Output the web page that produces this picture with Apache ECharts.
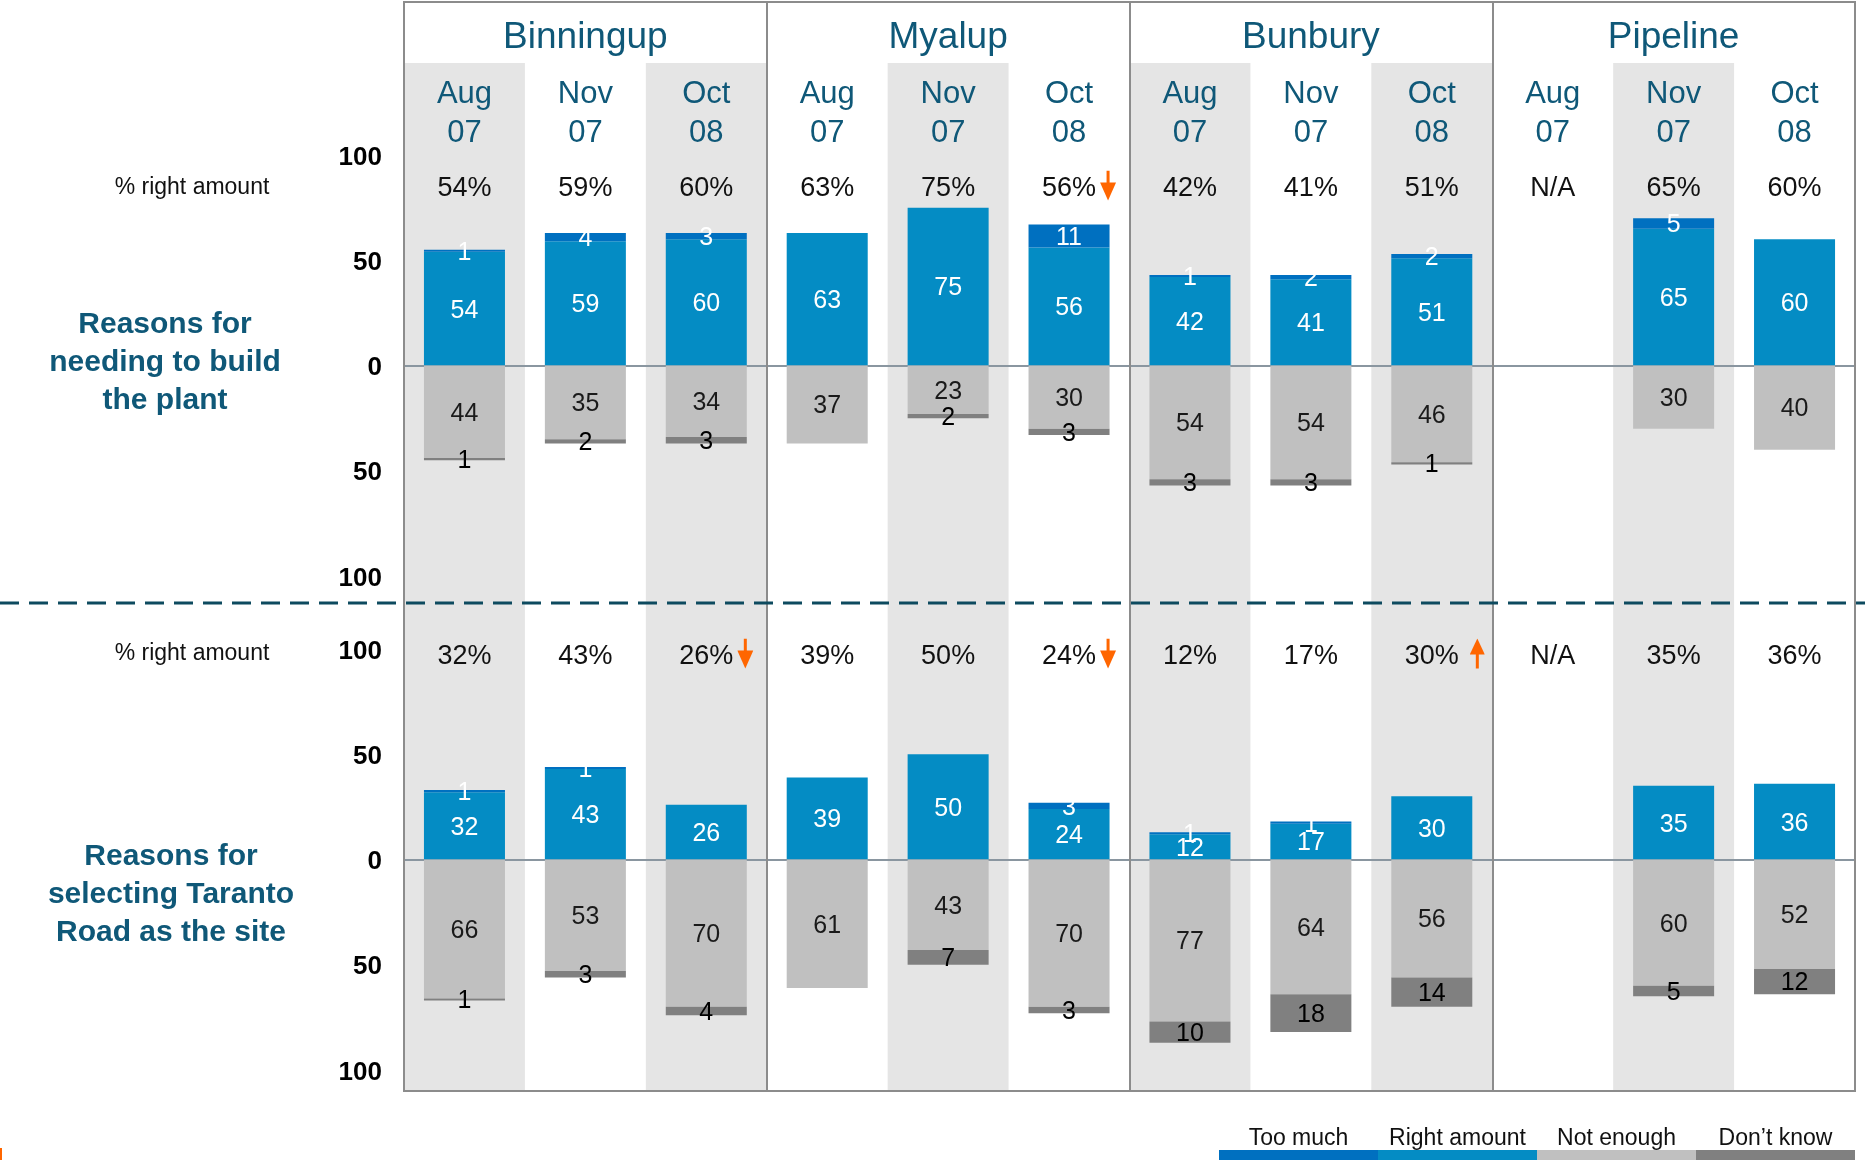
<!DOCTYPE html>
<html>
<head>
<meta charset="utf-8">
<script src="https://cdn.jsdelivr.net/npm/echarts@6.0.0/dist/echarts.min.js"></script>
<style>
  html, body { margin: 0; padding: 0; background: #fff; }
  #chart { width: 1865px; height: 1160px; }
</style>
</head>
<body>
<div id="chart"></div>
<script>
const groups = ['Binningup', 'Myalup', 'Bunbury', 'Pipeline']
const waves = ['Aug\n07', 'Nov\n07', 'Oct\n08']
const periods = groups.flatMap(() => waves)

// Reasons for needing to build the plant
const plantTooMuch = [1, 4, 3, 0, 0, 11, 1, 2, 2, null, 5, 0]
const plantRight = [54, 59, 60, 63, 75, 56, 42, 41, 51, null, 65, 60]
const plantNotEnough = [44, 35, 34, 37, 23, 30, 54, 54, 46, null, 30, 40]
const plantDontKnow = [1, 2, 3, 0, 2, 3, 3, 3, 1, null, 0, 0]
const plantPct = ['54%', '59%', '60%', '63%', '75%', '56%', '42%', '41%', '51%', 'N/A', '65%', '60%']
const plantTrend = ['', '', '', '', '', 'down', '', '', '', '', '', '']

// Reasons for selecting Taranto Road as the site
const siteTooMuch = [1, 1, 0, 0, 0, 3, 1, 1, 0, null, 0, 0]
const siteRight = [32, 43, 26, 39, 50, 24, 12, 17, 30, null, 35, 36]
const siteNotEnough = [66, 53, 70, 61, 43, 70, 77, 64, 56, null, 60, 52]
const siteDontKnow = [1, 3, 4, 0, 7, 3, 10, 18, 14, null, 5, 12]
const sitePct = ['32%', '43%', '26%', '39%', '50%', '24%', '12%', '17%', '30%', 'N/A', '35%', '36%']
const siteTrend = ['', '', 'down', '', '', 'down', '', '', 'up', '', '', '']

const yTicks = [-100, -50, 0, 50, 100]
const legendNames = ['Too much', 'Right amount', 'Not enough', 'Don\u2019t know']

const font = "'Liberation Sans', Arial, sans-serif"
const teal = '#0f5878'
const orange = '#ff6600'
const colors = {
  tooMuch: '#0070c0',
  right: '#048cc4',
  notEnough: '#c0c0c0',
  dontKnow: '#808080'
}

// orange trend arrows, used as backgrounds of rich text tokens
// (drawn in the top 30px of a 37px box so they sit a little above the text)
const svgUrl = (body, w, h) => 'data:image/svg+xml;charset=utf-8,' + encodeURIComponent(
  `<svg xmlns="http://www.w3.org/2000/svg" width="${w}" height="${h}" viewBox="0 0 ${w} ${h}">${body}</svg>`)
const arrowDown = svgUrl(`<rect x="6.5" y="0" width="3" height="15" fill="${orange}"/><polygon points="0,12 16,12 8,30" fill="${orange}"/>`, 16, 37)
const arrowUp = svgUrl(`<rect x="6" y="15" width="3" height="15" fill="${orange}"/><polygon points="0,16 15,16 7.5,0" fill="${orange}"/>`, 15, 37)

const chart = echarts.init(document.getElementById('chart'))

const pctLabel = (pct, trend) => {
  if (trend === 'down') return '{sd| }{p|' + pct + '}{gd| }{dn| }'
  if (trend === 'up') return '{su| }{p|' + pct + '}{gu| }{up| }'
  return '{p|' + pct + '}'
}

const pctRich = {
  p: { fontSize: 27, color: '#111', fontFamily: font, verticalAlign: 'middle' },
  dn: { width: 16, height: 37, verticalAlign: 'middle', backgroundColor: { image: arrowDown } },
  up: { width: 15, height: 37, verticalAlign: 'middle', backgroundColor: { image: arrowUp } },
  gd: { width: 4, verticalAlign: 'middle' },
  gu: { width: 11, verticalAlign: 'middle' },
  sd: { width: 20, verticalAlign: 'middle' },
  su: { width: 26, verticalAlign: 'middle' }
}

const valueLabel = (color) => ({
  show: true,
  position: 'inside',
  offset: [0, 2],
  color: color,
  fontSize: 25,
  fontFamily: font,
  formatter: (p) => (p.value ? Math.abs(p.value) : '')
})

const panelSeries = (axisIdx, stack, tooMuch, right, notEnough, dontKnow) => [
  { name: 'Right amount', data: right, color: colors.right, label: valueLabel('#fff') },
  { name: 'Too much', data: tooMuch, color: colors.tooMuch, label: valueLabel('#fff') },
  { name: 'Not enough', data: notEnough.map(v => v === null ? null : -v), color: colors.notEnough, label: valueLabel('#1a1a1a') },
  { name: 'Don\u2019t know', data: dontKnow.map(v => v === null ? null : -v), color: colors.dontKnow, label: valueLabel('#000') }
].map(s => ({
  ...s,
  type: 'bar',
  stack: stack,
  barWidth: '67%',
  xAxisIndex: axisIdx,
  yAxisIndex: axisIdx,
  itemStyle: { color: s.color },
  emphasis: { disabled: true }
}))

const hiddenY = (gridIndex) => ({
  type: 'value', gridIndex, min: 0, max: 1, show: false
})

const tickY = (gridIndex) => ({
  type: 'value',
  gridIndex,
  min: -100,
  max: 100,
  interval: 50,
  axisLine: { show: false },
  axisTick: { show: false },
  splitLine: { show: false },
  axisLabel: {
    margin: 22,
    fontSize: 26,
    fontWeight: 'bold',
    color: '#000',
    fontFamily: font,
    verticalAlign: 'top',
    lineHeight: 5,
    formatter: (v) => yTicks.includes(v) ? Math.abs(v) : ''
  }
})

const zeroX = (gridIndex) => ({
  type: 'category',
  gridIndex,
  data: periods,
  position: 'bottom',
  axisLine: { onZero: true, lineStyle: { color: '#8a96a0', width: 2 } },
  axisTick: { show: false },
  axisLabel: { show: false },
  splitLine: { show: false }
})

const pctX = (gridIndex, pct, trend, margin) => ({
  type: 'category',
  gridIndex,
  data: periods,
  position: 'top',
  axisLine: { show: false, onZero: false },
  axisTick: { show: false },
  splitLine: { show: false },
  axisLabel: {
    inside: true,
    interval: 0,
    margin: margin,
    verticalAlign: 'middle',
    formatter: (v, i) => pctLabel(pct[i], trend[i]),
    rich: pctRich
  }
})

const option = {
  animation: false,
  backgroundColor: '#fff',
  textStyle: { fontFamily: font },
  grid: [
    // frame with group titles
    { left: 404, right: 10, top: 2, height: 1089, show: true, borderColor: '#8c8c8c', borderWidth: 2, z: 5 },
    // column shading and wave labels
    { left: 404, right: 10, top: 63, height: 1028 },
    // top panel
    { left: 404, right: 10, top: 155, height: 421 },
    // bottom panel
    { left: 404, right: 10, top: 649, height: 421 }
  ],
  xAxis: [
    {
      type: 'category',
      gridIndex: 0,
      data: groups,
      position: 'top',
      z: 5,
      axisLine: { show: false, onZero: false },
      axisTick: { show: false },
      splitLine: { show: true, lineStyle: { color: '#8c8c8c', width: 2 } },
      axisLabel: { inside: true, margin: 36, verticalAlign: 'middle', fontSize: 37, color: teal, fontFamily: font }
    },
    {
      type: 'category',
      gridIndex: 1,
      data: periods,
      position: 'top',
      z: 0,
      axisLine: { show: false, onZero: false },
      axisTick: { show: false },
      splitLine: { show: false },
      splitArea: { show: true, areaStyle: { color: ['#e5e5e5', 'rgba(255,255,255,0)'] } },
      axisLabel: {
        inside: true, interval: 0, margin: 51, verticalAlign: 'middle',
        fontSize: 31, lineHeight: 39, color: teal, fontFamily: font
      }
    },
    zeroX(2),
    pctX(2, plantPct, plantTrend, 34),
    zeroX(3),
    pctX(3, sitePct, siteTrend, 8)
  ],
  yAxis: [hiddenY(0), hiddenY(1), tickY(2), tickY(2), tickY(3), tickY(3)].map((a, i) => i === 3 || i === 5 ? { ...a, show: false } : a),
  legend: {
    left: 1219,
    top: 1150,
    padding: 0,
    itemWidth: 159,
    itemHeight: 10,
    itemGap: 0,
    icon: 'rect',
    selectedMode: false,
    data: legendNames,
    formatter: () => '',
    textStyle: { fontSize: 1 }
  },
  graphic: [
    {
      type: 'line', z: 10,
      shape: { x1: 0, y1: 603, x2: 1865, y2: 603 },
      style: { stroke: '#0d4a5f', lineWidth: 3, lineDash: [19, 10] }
    },
    { type: 'rect', shape: { x: 0, y: 1148, width: 2, height: 12 }, style: { fill: orange } },
    {
      type: 'text', x: 192, y: 187.5,
      style: { text: '% right amount', fill: '#111', font: '23px ' + font, textAlign: 'center', textVerticalAlign: 'middle' }
    },
    {
      type: 'text', x: 192, y: 653.5,
      style: { text: '% right amount', fill: '#111', font: '23px ' + font, textAlign: 'center', textVerticalAlign: 'middle' }
    },
    {
      type: 'text', x: 165, y: 362.5,
      style: {
        text: 'Reasons for\nneeding to build\nthe plant', font: 'bold 30px ' + font,
        fill: teal, textAlign: 'center', textVerticalAlign: 'middle', lineHeight: 38
      }
    },
    {
      type: 'text', x: 171, y: 894.5,
      style: {
        text: 'Reasons for\nselecting Taranto\nRoad as the site', font: 'bold 30px ' + font,
        fill: teal, textAlign: 'center', textVerticalAlign: 'middle', lineHeight: 38
      }
    },
    ...legendNames.map((name, i) => ({
      type: 'text', x: 1298.5 + i * 159, y: 1138.5,
      style: { text: name, font: '23px ' + font, fill: '#111', textAlign: 'center', textVerticalAlign: 'middle' }
    }))
  ],
  series: [
    ...panelSeries(2, 'plant', plantTooMuch, plantRight, plantNotEnough, plantDontKnow),
    ...panelSeries(3, 'site', siteTooMuch, siteRight, siteNotEnough, siteDontKnow)
  ]
}

// series use the axis pairs: x 2 / y 2 for the top panel, x 4 / y 4 for the bottom one
option.series.forEach(s => {
  if (s.xAxisIndex === 3) { s.xAxisIndex = 4; s.yAxisIndex = 4 }
})

chart.setOption(option)
window.addEventListener('resize', () => chart.resize())
</script>
</body>
</html>
